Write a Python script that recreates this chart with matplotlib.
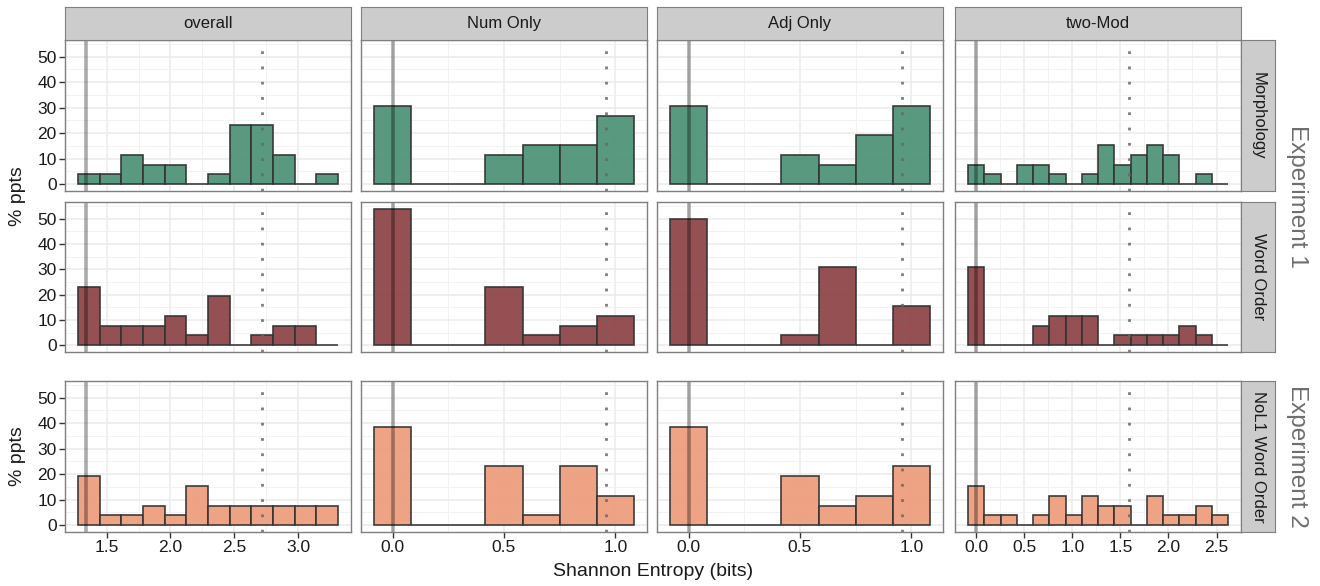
import numpy as np
import matplotlib
matplotlib.use("Agg")
import matplotlib.pyplot as plt

plt.rcParams['font.family'] = ['Liberation Sans', 'DejaVu Sans']

# facet labels
col_names = ["overall", "Num Only", "Adj Only", "two-Mod"]
row_names = ["Morphology", "Word Order", "NoL1 Word Order"]
row_fills = ["#4F9479", "#8E464A", "#EE9E7F"]

N_PPTS = 26

# bin layout per column (left edge of first bin, bin width)
bin_start = [1.276, -0.0833, -0.0833, -0.0845]
bin_width = [0.1697, 0.1667, 0.1667, 0.169]

# reference lines per column
solid_x = [1.342, 0.0, 0.0, 0.0]
dotted_x = [2.72, 0.96, 0.96, 1.585]

x_ticks = [[1.5, 2.0, 2.5, 3.0], [0.0, 0.5, 1.0], [0.0, 0.5, 1.0],
           [0.0, 0.5, 1.0, 1.5, 2.0, 2.5]]

# counts of participants per bin [row][col]
counts = [
    [[1, 1, 3, 2, 2, 0, 1, 6, 6, 3, 0, 1],
     [8, 0, 0, 3, 4, 4, 7],
     [8, 0, 0, 3, 2, 5, 8],
     [2, 1, 0, 2, 2, 1, 0, 1, 4, 2, 3, 4, 3, 0, 1, 0]],
    [[6, 2, 2, 2, 3, 1, 5, 0, 1, 2, 2, 0],
     [14, 0, 0, 6, 1, 2, 3],
     [13, 0, 0, 1, 8, 0, 4],
     [8, 0, 0, 0, 2, 3, 3, 3, 0, 1, 1, 1, 1, 2, 1, 0]],
    [[5, 1, 1, 2, 1, 4, 2, 2, 2, 2, 2, 2],
     [10, 0, 0, 6, 1, 6, 3],
     [10, 0, 0, 5, 2, 3, 6],
     [4, 1, 1, 0, 1, 3, 1, 3, 2, 2, 0, 3, 1, 1, 2, 1]],
]

W, H = 1320, 586
fig = plt.figure(figsize=(W / 100, H / 100), dpi=100)


def box(x0, y0, x1, y1):
    return [x0 / W, 1 - y1 / H, (x1 - x0) / W, (y1 - y0) / H]


col_left = [65, 361, 657, 955]
col_w = 286
row_top = [40, 202, 381]
row_h = [151, 150, 151]
strip_top = 7
strip_x1 = 1275
border = "#7F7F7F"

ymax = 100 * 14 / N_PPTS
ylim = (-0.05 * ymax, 1.05 * ymax)

for r in range(3):
    for c in range(4):
        x0 = col_left[c]
        y0 = row_top[r]
        ax = fig.add_axes(box(x0, y0, x0 + col_w, y0 + row_h[r]))
        vals = np.array(counts[r][c]) / N_PPTS * 100
        edges = bin_start[c] + bin_width[c] * np.arange(len(vals))
        ax.bar(edges, vals, width=bin_width[c], align='edge', color=row_fills[r],
               edgecolor="#333333", linewidth=1.2, alpha=0.95, zorder=3)
        ax.axvline(solid_x[c], color="black", alpha=0.33, linewidth=2.6, zorder=4)
        ax.axvline(dotted_x[c], color="#666666", alpha=0.85, linewidth=2.0,
                   linestyle=(0, (1, 4.5)), zorder=4)

        lo = bin_start[c]
        hi = bin_start[c] + bin_width[c] * len(vals)
        pad = 0.05 * (hi - lo)
        ax.set_xlim(lo - pad, hi + pad)
        ax.set_ylim(*ylim)

        ax.set_xticks(x_ticks[c])
        ax.set_xticks(np.array(x_ticks[c][:-1]) + 0.25, minor=True)
        ax.set_yticks([0, 10, 20, 30, 40, 50])
        ax.set_yticks([5, 15, 25, 35, 45, 55], minor=True)
        ax.grid(True, which='major', color="#EBEBEB", linewidth=1.1, zorder=0)
        ax.grid(True, which='minor', color="#F2F2F2", linewidth=0.7, zorder=0)
        ax.set_axisbelow(True)

        for s in ax.spines.values():
            s.set_color(border)
            s.set_linewidth(1.0)
            s.set_zorder(5)

        ax.tick_params(which='minor', length=0)
        ax.tick_params(which='major', length=4, width=1, color="#333333",
                       labelsize=12.5, labelcolor="#1A1A1A", pad=2)
        if c != 0:
            ax.tick_params(axis='y', length=0, labelleft=False)
        if r != 2:
            ax.tick_params(axis='x', length=0, labelbottom=False)
        else:
            ax.set_xticklabels([f"{t:.1f}" for t in x_ticks[c]])

        # top strips (first plot only)
        if r == 0:
            sax = fig.add_axes(box(x0, strip_top, x0 + col_w, y0))
            sax.set_facecolor("#CCCCCC")
            sax.set_xticks([])
            sax.set_yticks([])
            for s in sax.spines.values():
                s.set_color(border)
            sax.text(0.5, 0.5, col_names[c], ha='center', va='center',
                     fontsize=12, color="#1A1A1A", transform=sax.transAxes)

    # right strips
    rx0 = col_left[3] + col_w
    rax = fig.add_axes(box(rx0, row_top[r], strip_x1, row_top[r] + row_h[r]))
    rax.set_facecolor("#CCCCCC")
    rax.set_xticks([])
    rax.set_yticks([])
    for s in rax.spines.values():
        s.set_color(border)
    rax.text(0.5, 0.5, row_names[r], ha='center', va='center', rotation=270,
             fontsize=12, color="#1A1A1A", transform=rax.transAxes)

# y axis titles, one per plot
for yc in [(row_top[0] + row_top[1] + row_h[1]) / 2, row_top[2] + row_h[2] / 2]:
    fig.text(17 / W, 1 - yc / H, "% ppts", rotation=90, ha='center', va='center',
             fontsize=14, color="#1A1A1A")

# experiment labels
fig.text(1297 / W, 1 - 196 / H, "Experiment 1", rotation=270, ha='center',
         va='center', fontsize=17.5, color="#6E6E6E")
fig.text(1297 / W, 1 - 456 / H, "Experiment 2", rotation=270, ha='center',
         va='center', fontsize=17.5, color="#6E6E6E")

fig.text(653 / W, 1 - 572 / H, "Shannon Entropy (bits)", ha='center', va='center',
         fontsize=14, color="#1A1A1A")

fig.savefig("out.png", dpi=100, facecolor="white")
